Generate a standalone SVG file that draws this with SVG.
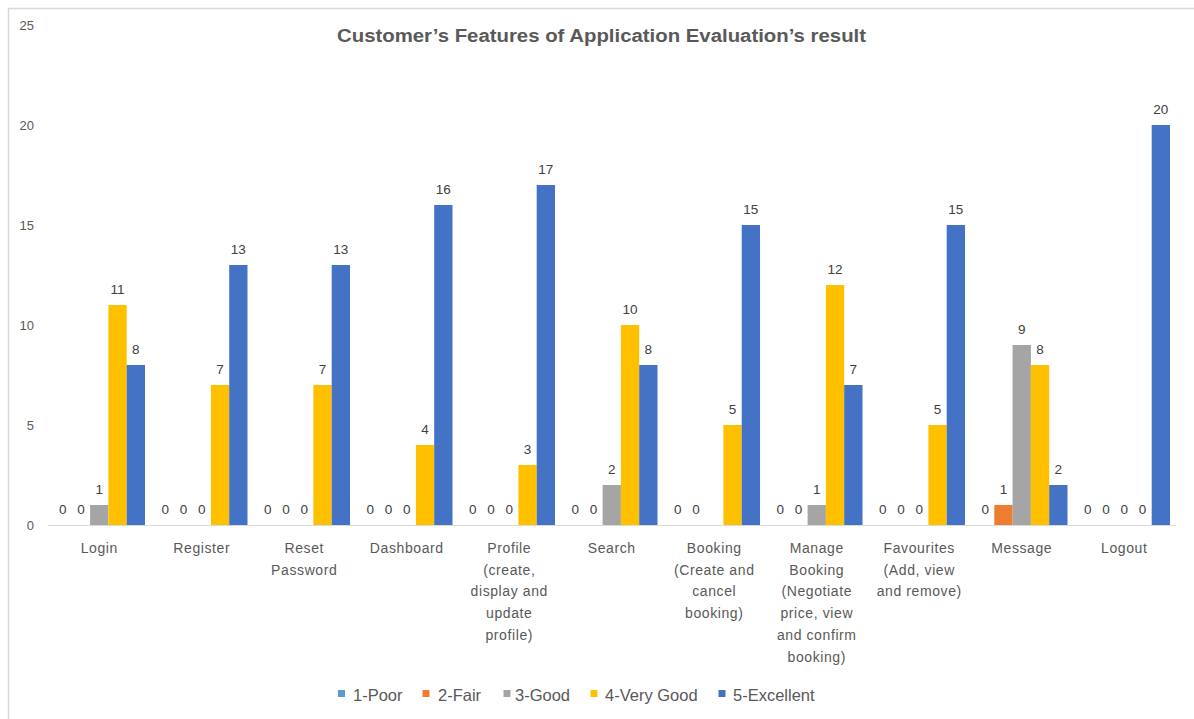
<svg xmlns="http://www.w3.org/2000/svg" width="1194" height="719" viewBox="0 0 1194 719">
  <style>
    text { font-family: "Liberation Sans", Arial, sans-serif; }
    .title { font-size: 18px; font-weight: bold; fill: #595959; }
    .tick { font-size: 13px; fill: #595959; text-anchor: end; }
    .val { font-size: 13.5px; fill: #404040; text-anchor: middle; }
    .cat { font-size: 14px; fill: #595959; text-anchor: middle; letter-spacing: 0.6px; }
    .leg { font-size: 16.5px; fill: #595959; }
    .s1 { fill: #5B9BD5; }
    .s2 { fill: #ED7D31; }
    .s3 { fill: #A5A5A5; }
    .s4 { fill: #FFC000; }
    .s5 { fill: #4472C4; }
  </style>

  <!-- chart area background and frame -->
  <rect x="0" y="0" width="1194" height="719" fill="#ffffff"/>
  <rect x="8.5" y="8.5" width="1200" height="720" fill="none" stroke="#d9d9d9" stroke-width="1.5"/>

  <text class="title" x="601.5" y="42" text-anchor="middle" textLength="529" lengthAdjust="spacingAndGlyphs">Customer’s Features of Application Evaluation’s result</text>

  <!-- value axis -->
  <g id="value-axis">
    <text class="tick" x="34" y="30">25</text>
    <text class="tick" x="34" y="130">20</text>
    <text class="tick" x="34" y="230">15</text>
    <text class="tick" x="34" y="330">10</text>
    <text class="tick" x="34" y="430">5</text>
    <text class="tick" x="34" y="530">0</text>
  </g>

  <!-- category axis line -->
  <g id="connectors">
    <line x1="48" y1="525.5" x2="1176" y2="525.5" stroke="#d9d9d9" stroke-width="1"/>
  </g>

  <!-- one group per feature; bars are offset from the category centre -->
  <g id="login" transform="translate(99.25,0)">
    <rect class="s3" x="-9.15" y="505" width="18.3" height="20"/>
    <rect class="s4" x="9.15" y="305" width="18.3" height="220"/>
    <rect class="s5" x="27.45" y="365" width="18.3" height="160"/>
    <text class="val" x="-36.6" y="514">0</text>
    <text class="val" x="-18.3" y="514">0</text>
    <text class="val" x="0" y="494">1</text>
    <text class="val" x="18.3" y="294">11</text>
    <text class="val" x="36.6" y="354">8</text>
    <text class="cat" x="0" y="553">Login</text>
  </g>

  <g id="register" transform="translate(201.75,0)">
    <rect class="s4" x="9.15" y="385" width="18.3" height="140"/>
    <rect class="s5" x="27.45" y="265" width="18.3" height="260"/>
    <text class="val" x="-36.6" y="514">0</text>
    <text class="val" x="-18.3" y="514">0</text>
    <text class="val" x="0" y="514">0</text>
    <text class="val" x="18.3" y="374">7</text>
    <text class="val" x="36.6" y="254">13</text>
    <text class="cat" x="0" y="553">Register</text>
  </g>

  <g id="reset-password" transform="translate(304.25,0)">
    <rect class="s4" x="9.15" y="385" width="18.3" height="140"/>
    <rect class="s5" x="27.45" y="265" width="18.3" height="260"/>
    <text class="val" x="-36.6" y="514">0</text>
    <text class="val" x="-18.3" y="514">0</text>
    <text class="val" x="0" y="514">0</text>
    <text class="val" x="18.3" y="374">7</text>
    <text class="val" x="36.6" y="254">13</text>
    <text class="cat" x="0" y="553">Reset</text>
    <text class="cat" x="0" y="574.7">Password</text>
  </g>

  <g id="dashboard" transform="translate(406.75,0)">
    <rect class="s4" x="9.15" y="445" width="18.3" height="80"/>
    <rect class="s5" x="27.45" y="205" width="18.3" height="320"/>
    <text class="val" x="-36.6" y="514">0</text>
    <text class="val" x="-18.3" y="514">0</text>
    <text class="val" x="0" y="514">0</text>
    <text class="val" x="18.3" y="434">4</text>
    <text class="val" x="36.6" y="194">16</text>
    <text class="cat" x="0" y="553">Dashboard</text>
  </g>

  <g id="profile" transform="translate(509.25,0)">
    <rect class="s4" x="9.15" y="465" width="18.3" height="60"/>
    <rect class="s5" x="27.45" y="185" width="18.3" height="340"/>
    <text class="val" x="-36.6" y="514">0</text>
    <text class="val" x="-18.3" y="514">0</text>
    <text class="val" x="0" y="514">0</text>
    <text class="val" x="18.3" y="454">3</text>
    <text class="val" x="36.6" y="174">17</text>
    <text class="cat" x="0" y="553">Profile</text>
    <text class="cat" x="0" y="574.7">(create,</text>
    <text class="cat" x="0" y="596.4">display and</text>
    <text class="cat" x="0" y="618.1">update</text>
    <text class="cat" x="0" y="639.8">profile)</text>
  </g>

  <g id="search" transform="translate(611.75,0)">
    <rect class="s3" x="-9.15" y="485" width="18.3" height="40"/>
    <rect class="s4" x="9.15" y="325" width="18.3" height="200"/>
    <rect class="s5" x="27.45" y="365" width="18.3" height="160"/>
    <text class="val" x="-36.6" y="514">0</text>
    <text class="val" x="-18.3" y="514">0</text>
    <text class="val" x="0" y="474">2</text>
    <text class="val" x="18.3" y="314">10</text>
    <text class="val" x="36.6" y="354">8</text>
    <text class="cat" x="0" y="553">Search</text>
  </g>

  <g id="booking" transform="translate(714.25,0)">
    <rect class="s4" x="9.15" y="425" width="18.3" height="100"/>
    <rect class="s5" x="27.45" y="225" width="18.3" height="300"/>
    <text class="val" x="-36.6" y="514">0</text>
    <text class="val" x="-18.3" y="514">0</text>
    <text class="val" x="18.3" y="414">5</text>
    <text class="val" x="36.6" y="214">15</text>
    <text class="cat" x="0" y="553">Booking</text>
    <text class="cat" x="0" y="574.7">(Create and</text>
    <text class="cat" x="0" y="596.4">cancel</text>
    <text class="cat" x="0" y="618.1">booking)</text>
  </g>

  <g id="manage-booking" transform="translate(816.75,0)">
    <rect class="s3" x="-9.15" y="505" width="18.3" height="20"/>
    <rect class="s4" x="9.15" y="285" width="18.3" height="240"/>
    <rect class="s5" x="27.45" y="385" width="18.3" height="140"/>
    <text class="val" x="-36.6" y="514">0</text>
    <text class="val" x="-18.3" y="514">0</text>
    <text class="val" x="0" y="494">1</text>
    <text class="val" x="18.3" y="274">12</text>
    <text class="val" x="36.6" y="374">7</text>
    <text class="cat" x="0" y="553">Manage</text>
    <text class="cat" x="0" y="574.7">Booking</text>
    <text class="cat" x="0" y="596.4">(Negotiate</text>
    <text class="cat" x="0" y="618.1">price, view</text>
    <text class="cat" x="0" y="639.8">and confirm</text>
    <text class="cat" x="0" y="661.5">booking)</text>
  </g>

  <g id="favourites" transform="translate(919.25,0)">
    <rect class="s4" x="9.15" y="425" width="18.3" height="100"/>
    <rect class="s5" x="27.45" y="225" width="18.3" height="300"/>
    <text class="val" x="-36.6" y="514">0</text>
    <text class="val" x="-18.3" y="514">0</text>
    <text class="val" x="0" y="514">0</text>
    <text class="val" x="18.3" y="414">5</text>
    <text class="val" x="36.6" y="214">15</text>
    <text class="cat" x="0" y="553">Favourites</text>
    <text class="cat" x="0" y="574.7">(Add, view</text>
    <text class="cat" x="0" y="596.4">and remove)</text>
  </g>

  <g id="message" transform="translate(1021.75,0)">
    <rect class="s2" x="-27.45" y="505" width="18.3" height="20"/>
    <rect class="s3" x="-9.15" y="345" width="18.3" height="180"/>
    <rect class="s4" x="9.15" y="365" width="18.3" height="160"/>
    <rect class="s5" x="27.45" y="485" width="18.3" height="40"/>
    <text class="val" x="-36.6" y="514">0</text>
    <text class="val" x="-18.3" y="494">1</text>
    <text class="val" x="0" y="334">9</text>
    <text class="val" x="18.3" y="354">8</text>
    <text class="val" x="36.6" y="474">2</text>
    <text class="cat" x="0" y="553">Message</text>
  </g>

  <g id="logout" transform="translate(1124.25,0)">
    <rect class="s5" x="27.45" y="125" width="18.3" height="400"/>
    <text class="val" x="-36.6" y="514">0</text>
    <text class="val" x="-18.3" y="514">0</text>
    <text class="val" x="0" y="514">0</text>
    <text class="val" x="18.3" y="514">0</text>
    <text class="val" x="36.6" y="114">20</text>
    <text class="cat" x="0" y="553">Logout</text>
  </g>

  <!-- legend -->
  <g id="legend">
    <rect class="s1" x="338" y="690" width="7" height="7"/>
    <text class="leg" x="353" y="701">1-Poor</text>
    <rect class="s2" x="422.5" y="690" width="7" height="7"/>
    <text class="leg" x="438" y="701">2-Fair</text>
    <rect class="s3" x="503.5" y="690" width="7" height="7"/>
    <text class="leg" x="515" y="701">3-Good</text>
    <rect class="s4" x="590.5" y="690" width="7" height="7"/>
    <text class="leg" x="605" y="701">4-Very Good</text>
    <rect class="s5" x="718.5" y="690" width="7" height="7"/>
    <text class="leg" x="733" y="701">5-Excellent</text>
  </g>
</svg>
